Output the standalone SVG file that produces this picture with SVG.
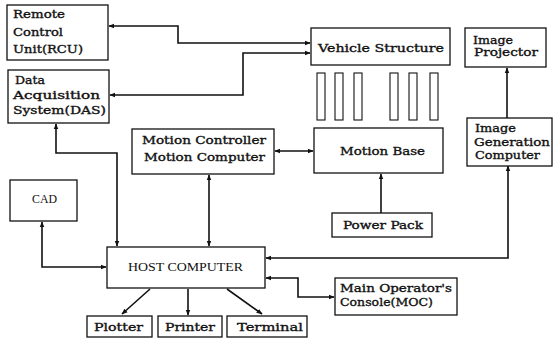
<svg xmlns="http://www.w3.org/2000/svg" width="554" height="342" viewBox="0 0 554 342">
<style>
.box{fill:#fff;stroke:#111;stroke-width:1.3}
.bar{fill:#fff;stroke:#111;stroke-width:1.1}
.t{font-family:"DejaVu Serif","Liberation Serif",serif;font-size:11px;fill:#111;stroke:#111;stroke-width:0.35}
.r{font-family:"Liberation Serif","DejaVu Serif",serif;font-size:12.5px;fill:#111}
.c{fill:none;stroke:#111;stroke-width:1.6}
</style>
<defs>
<marker id="ah" viewBox="0 0 10 10" refX="9" refY="5" markerWidth="6" markerHeight="6" markerUnits="userSpaceOnUse" orient="auto-start-reverse">
<path d="M0,1 L10,5 L0,9 z" fill="#111"/>
</marker>
</defs>
<rect width="554" height="342" fill="#fff"/>
<g id="connectors">
<path class="c" d="M109,26 H178 V43 H310" marker-start="url(#ah)" marker-end="url(#ah)"/>
<path class="c" d="M110,95 H243 V53 H310" marker-start="url(#ah)" marker-end="url(#ah)"/>
<path class="c" d="M56,124 V153 H117 V246" marker-start="url(#ah)" marker-end="url(#ah)"/>
<path class="c" d="M209,175 V246" marker-start="url(#ah)" marker-end="url(#ah)"/>
<path class="c" d="M275,151 H313" marker-start="url(#ah)" marker-end="url(#ah)"/>
<path class="c" d="M381,213 V174" marker-end="url(#ah)"/>
<path class="c" d="M507,118 V68" marker-end="url(#ah)"/>
<path class="c" d="M508,166 V258 H266" marker-start="url(#ah)" marker-end="url(#ah)"/>
<path class="c" d="M42,222 V267 H106" marker-start="url(#ah)" marker-end="url(#ah)"/>
<path class="c" d="M266,278 H298 V297 H334" marker-start="url(#ah)" marker-end="url(#ah)"/>
<path class="c" d="M150,289 L122,314" marker-end="url(#ah)"/>
<path class="c" d="M188,289 V315" marker-end="url(#ah)"/>
<path class="c" d="M227,289 L262,314" marker-end="url(#ah)"/>
</g>
<g id="rcu">
<rect class="box" x="7" y="5" width="101" height="55"/>
<text class="t" x="13" y="18" textLength="52" lengthAdjust="spacingAndGlyphs">Remote</text>
<text class="t" x="13" y="36" textLength="50" lengthAdjust="spacingAndGlyphs">Control</text>
<text class="t" x="13" y="53" textLength="70" lengthAdjust="spacingAndGlyphs">Unit(RCU)</text>
</g>
<g id="das">
<rect class="box" x="8" y="70" width="101" height="53"/>
<text class="t" x="15" y="84" textLength="30" lengthAdjust="spacingAndGlyphs">Data</text>
<text class="t" x="13" y="99" textLength="87" lengthAdjust="spacingAndGlyphs">Acquisition</text>
<text class="t" x="13" y="114" textLength="93" lengthAdjust="spacingAndGlyphs">System(DAS)</text>
</g>
<g id="vehicle-structure">
<rect class="box" x="311" y="28" width="139" height="37"/>
<text class="t" x="318" y="52" textLength="126" lengthAdjust="spacingAndGlyphs">Vehicle Structure</text>
</g>
<g id="bars">
<rect class="bar" x="317" y="73" width="8" height="47"/>
<rect class="bar" x="335" y="73" width="8" height="47"/>
<rect class="bar" x="354" y="73" width="8" height="47"/>
<rect class="bar" x="390" y="73" width="8" height="47"/>
<rect class="bar" x="409" y="73" width="8" height="47"/>
<rect class="bar" x="430" y="73" width="8" height="47"/>
</g>
<g id="image-projector">
<rect class="box" x="465" y="28" width="81" height="39"/>
<text class="t" x="473" y="44" textLength="40" lengthAdjust="spacingAndGlyphs">Image</text>
<text class="t" x="474" y="56" textLength="64" lengthAdjust="spacingAndGlyphs">Projector</text>
</g>
<g id="motion-controller">
<rect class="box" x="132" y="129" width="142" height="45"/>
<text class="t" x="142" y="144" textLength="124" lengthAdjust="spacingAndGlyphs">Motion Controller</text>
<text class="t" x="144" y="161" textLength="121" lengthAdjust="spacingAndGlyphs">Motion Computer</text>
</g>
<g id="motion-base">
<rect class="box" x="314" y="128" width="129" height="45"/>
<text class="t" x="340" y="155" textLength="85" lengthAdjust="spacingAndGlyphs">Motion Base</text>
</g>
<g id="image-generation-computer">
<rect class="box" x="467" y="118" width="85" height="48"/>
<text class="t" x="475" y="132" textLength="41" lengthAdjust="spacingAndGlyphs">Image</text>
<text class="t" x="474" y="146" textLength="76" lengthAdjust="spacingAndGlyphs">Generation</text>
<text class="t" x="475" y="159" textLength="65" lengthAdjust="spacingAndGlyphs">Computer</text>
</g>
<g id="power-pack">
<rect class="box" x="332" y="213" width="100" height="24"/>
<text class="t" x="343" y="229" textLength="80" lengthAdjust="spacingAndGlyphs">Power Pack</text>
</g>
<g id="cad">
<rect class="box" x="10" y="180" width="67" height="41"/>
<text class="r" x="32" y="203" textLength="25" lengthAdjust="spacingAndGlyphs">CAD</text>
</g>
<g id="host-computer">
<rect class="box" x="107" y="247" width="158" height="41"/>
<text class="r" x="128" y="271" textLength="115" lengthAdjust="spacingAndGlyphs">HOST COMPUTER</text>
</g>
<g id="moc">
<rect class="box" x="335" y="278" width="122" height="37"/>
<text class="t" x="340" y="292" textLength="112" lengthAdjust="spacingAndGlyphs">Main Operator's</text>
<text class="t" x="340" y="306" textLength="93" lengthAdjust="spacingAndGlyphs">Console(MOC)</text>
</g>
<g id="plotter">
<rect class="box" x="87" y="316" width="65" height="21"/>
<text class="t" x="94" y="331" textLength="49" lengthAdjust="spacingAndGlyphs">Plotter</text>
</g>
<g id="printer">
<rect class="box" x="158" y="316" width="64" height="21"/>
<text class="t" x="165" y="331" textLength="50" lengthAdjust="spacingAndGlyphs">Printer</text>
</g>
<g id="terminal">
<rect class="box" x="227" y="316" width="80" height="21"/>
<text class="t" x="237" y="331" textLength="66" lengthAdjust="spacingAndGlyphs">Terminal</text>
</g>
</svg>
